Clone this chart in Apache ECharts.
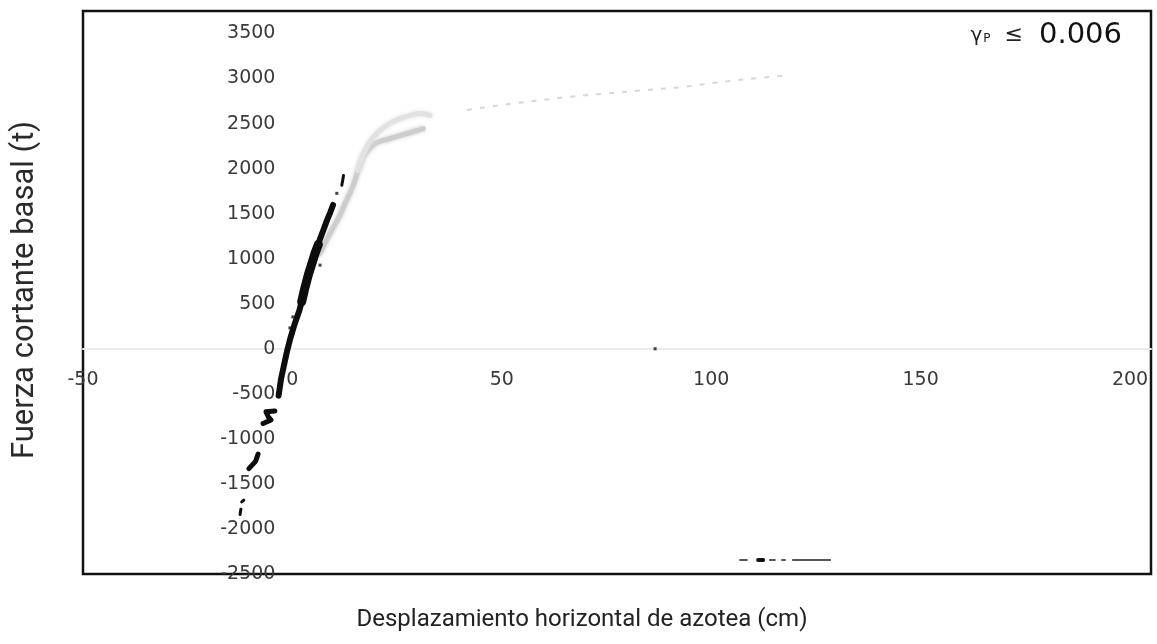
<!DOCTYPE html>
<html>
<head>
<meta charset="utf-8">
<script src="https://cdn.jsdelivr.net/npm/echarts@6/dist/echarts.min.js"></script>
<style>
  html, body { margin: 0; padding: 0; background: #fff; }
  #chart { width: 1157px; height: 644px; }
</style>
</head>
<body>
<div id="chart"></div>
<script>
// Axis extents (cm, t) and tick step
const xMin = -50, xMax = 205, xStep = 50;
const yMin = -2500, yMax = 3750, yStep = 500;

// Dense centre of the cyclic response cloud
const cloudX = [-3.3, -2.7, -2.1, -1.4, -0.6, 0.5, 1.7, 2.6, 3.4, 4.1, 4.8, 5.7, 6.6, 7.4, 8.2, 9.0, 9.7];
const cloudY = [-520, -330, -200, -50, 98, 270, 431, 600, 764, 880, 986, 1100, 1220, 1319, 1420, 1510, 1597];

// Widest part of the cloud
const cloudWideX = [2.2, 3.0, 3.8, 4.6, 5.4, 6.2];
const cloudWideY = [520, 680, 820, 940, 1060, 1160];

// Isolated specks around the cloud
const speckX = [0.1, -0.6, 6.6, 8.5, 7.1, 10.6, 8.7, 86.6];
const speckY = [354, 232, 929, 1482, 1095, 1726, 1471, 0];

// Upper tip of the cloud
const tipX = [11.8, 12.2];
const tipY = [1815, 1925];

// Negative excursions
const blobAX = [-4.2, -6.3, -5.7, -5.1, -7.0];
const blobAY = [-690, -700, -760, -790, -830];
const blobBX = [-8.2, -8.8, -10.4];
const blobBY = [-1170, -1250, -1330];
const blobCX = [-11.6, -12.1];
const blobCY = [-1680, -1700];
const blobDX = [-12.3, -12.5];
const blobDY = [-1780, -1840];

// Pushover envelope, lower branch
const pushLowX = [6.4, 9.0, 11.0, 12.6, 14.4, 15.7, 16.9, 18.2, 19.7, 23.3, 28.1, 31.2];
const pushLowY = [1050, 1283, 1450, 1615, 1800, 1980, 2124, 2210, 2279, 2334, 2400, 2445];

// Pushover envelope, upper branch
const pushHighX = [15.7, 17.3, 19.0, 20.9, 23.2, 25.7, 28.1, 30.5, 32.9];
const pushHighY = [1980, 2201, 2330, 2423, 2500, 2555, 2590, 2611, 2590];

// Post-yield trend
const trendX = [41.7, 49.6, 57.5, 65.6, 73.5, 83.4, 93.3, 102.2, 111.0, 118.8];
const trendY = [2651, 2706, 2750, 2795, 2829, 2868, 2906, 2962, 3006, 3039];

// Residual marks near the lower limit
const lowDashX0 = [106.9, 111.2, 114.0, 116.9, 119.5];
const lowDashX1 = [108.5, 112.4, 115.2, 117.6, 128.4];
const lowDashY = -2345;

const zip = (xs, ys) => xs.map((x, i) => [x, ys[i]]);

function lineSeries(xs, ys, color, width, extra) {
  return Object.assign({
    type: 'line',
    data: zip(xs, ys),
    symbol: 'none',
    smooth: false,
    silent: true,
    lineStyle: { color: color, width: width, cap: 'round', join: 'round' }
  }, extra || {});
}

const softGray = (color, width) => ({
  smooth: true,
  lineStyle: { color: color, width: width, cap: 'round', shadowBlur: 4, shadowColor: color }
});

const series = [
  lineSeries(pushLowX, pushLowY, '#cdcdcd', 5, softGray('#cdcdcd', 5)),
  lineSeries(pushHighX, pushHighY, '#e2e2e2', 5, softGray('#e2e2e2', 5)),
  lineSeries(trendX, trendY, '#d6d6d6', 2, { lineStyle: { color: '#d6d6d6', width: 2, type: [5, 8] } }),
  lineSeries(cloudX, cloudY, '#0d0d0d', 6),
  lineSeries(cloudWideX, cloudWideY, '#0d0d0d', 9),
  lineSeries(tipX, tipY, '#0d0d0d', 3),
  lineSeries(blobAX, blobAY, '#0d0d0d', 5),
  lineSeries(blobBX, blobBY, '#0d0d0d', 5),
  lineSeries(blobCX, blobCY, '#0d0d0d', 3),
  lineSeries(blobDX, blobDY, '#0d0d0d', 3),
  {
    type: 'scatter',
    data: zip(speckX, speckY),
    symbol: 'rect',
    symbolSize: 3,
    silent: true,
    itemStyle: { color: '#111' }
  }
];
lowDashX0.forEach((x0, i) => {
  series.push(lineSeries([x0, lowDashX1[i]], [lowDashY, lowDashY], i === 1 ? '#111' : '#555', i === 1 ? 4 : 2));
});

const gridLeft = 83, gridRight = 6, gridTop = 11, gridBottom = 70;
const W = 1157, H = 644;
const plain = (v) => String(v);

const chart = echarts.init(document.getElementById('chart'), null, { renderer: 'canvas' });
chart.setOption({
  animation: false,
  backgroundColor: '#ffffff',
  grid: {
    left: gridLeft, right: gridRight, top: gridTop, bottom: gridBottom,
    show: true,
    borderColor: '#111',
    borderWidth: 2.5,
    backgroundColor: 'transparent'
  },
  xAxis: {
    type: 'value',
    min: xMin, max: xMax, interval: xStep,
    axisLine: { onZero: false, lineStyle: { color: '#ebebeb', width: 2 } },
    axisTick: { show: false },
    splitLine: { show: false },
    axisLabel: {
      margin: 22,
      showMaxLabel: false,
      formatter: plain,
      fontFamily: 'DejaVu Sans',
      fontSize: 19,
      color: '#3a3a3a'
    }
  },
  yAxis: {
    type: 'value',
    min: yMin, max: yMax, interval: yStep,
    axisLine: { onZero: false, show: false },
    axisTick: { show: false },
    splitLine: { show: false },
    axisLabel: {
      margin: 17,
      showMaxLabel: false,
      formatter: plain,
      fontFamily: 'DejaVu Sans',
      fontSize: 19,
      color: '#3a3a3a'
    }
  },
  graphic: [
    {
      type: 'text',
      x: 582,
      y: 620,
      style: {
        text: 'Desplazamiento horizontal de azotea (cm)',
        font: '24px Roboto',
        fill: '#222',
        align: 'center',
        verticalAlign: 'middle'
      }
    },
    {
      type: 'text',
      x: 25,
      y: 290,
      rotation: Math.PI / 2,
      style: {
        text: 'Fuerza cortante basal (t)',
        font: '31px Roboto',
        fill: '#2a2a2a',
        align: 'center',
        verticalAlign: 'middle'
      }
    },
    {
      type: 'text',
      right: 35,
      top: 21,
      style: {
        text: '{g|γ}{p|P}{le|≤}{n|0.006}',
        rich: {
          g: { fontFamily: 'DejaVu Sans', fontSize: 20, fill: '#222' },
          p: { fontFamily: 'DejaVu Sans', fontSize: 12, fill: '#222', padding: [6, 0, 0, 1] },
          le: { fontFamily: 'DejaVu Sans', fontSize: 22, fill: '#222', padding: [0, 16, 0, 14] },
          n: { fontFamily: 'DejaVu Sans', fontSize: 29, fill: '#111' }
        }
      }
    }
  ],
  series: series
});

// Move both axes so they cross at the data origin, as in the printed figure
const origin = chart.convertToPixel({ xAxisIndex: 0, yAxisIndex: 0 }, [0, 0]);
chart.setOption({
  xAxis: { offset: -((H - gridBottom) - origin[1]) },
  yAxis: { offset: -(origin[0] - gridLeft) }
});
</script>
</body>
</html>
